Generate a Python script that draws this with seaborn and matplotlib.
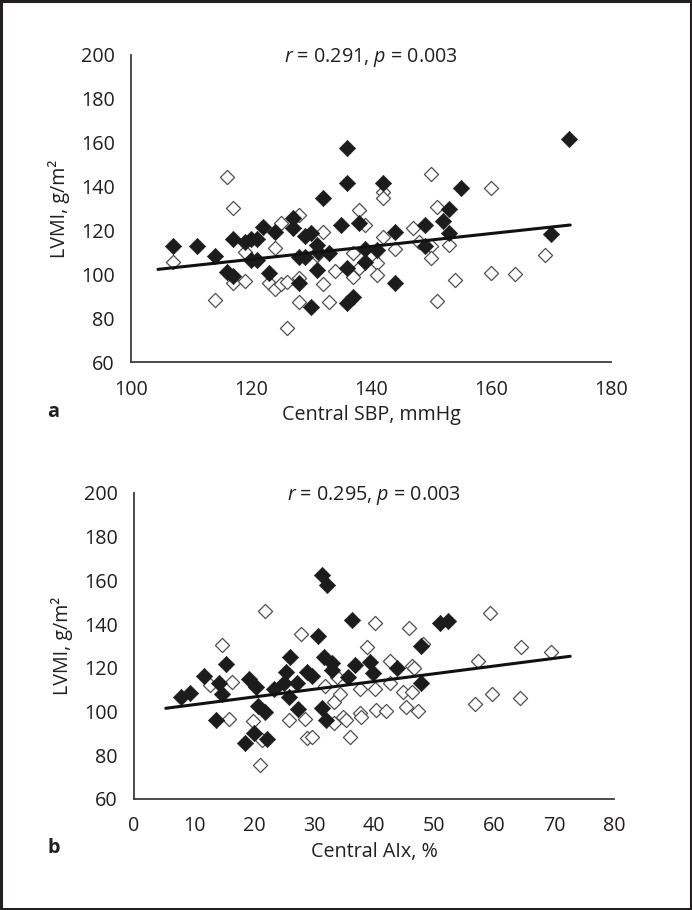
import matplotlib
matplotlib.use("Agg")
import matplotlib.pyplot as plt
import seaborn as sns
import pandas as pd
from matplotlib.patches import Rectangle

# ---------------- data ----------------
# Panel a: central SBP (mmHg) vs LVMI (g/m2)
a_filled_x = [107, 111, 114, 116, 117, 117, 119, 120, 121, 120, 121, 122, 124, 123, 127, 127,
              128, 128, 129, 129, 130, 131, 131.2, 131, 130, 132, 133, 135, 136, 136, 136, 136,
              137, 138, 139, 139, 141, 142, 144, 144, 149, 149, 152, 153, 153, 155, 170, 173]
a_filled_y = [113, 113, 108.5, 101, 99.5, 116, 115, 116, 116, 106.6, 106.6, 121.8, 119.2, 100.9,
              125.6, 121.1, 96.3, 107.9, 107.9, 117.6, 118.8, 113.5, 110.4, 102.1, 85.4, 134.7,
              110, 122.6, 157.5, 141.6, 102.9, 87.2, 90, 123.3, 111.5, 105.9, 111, 141.6, 119.2,
              96.3, 122.6, 113, 124.6, 129.7, 119.1, 139.6, 118.3, 161.7]
a_open_x = [107, 116, 117, 114, 117, 119, 119, 124, 125, 123, 124, 125, 126, 126, 128, 128, 128,
            132, 132, 133, 131, 134, 137, 137, 138, 139, 138, 141, 141, 142, 142, 142, 144, 147,
            148, 150, 150, 150, 151, 153, 151, 154, 160, 160, 164, 169]
a_open_y = [105.9, 144.6, 130.5, 88.4, 96.3, 97.1, 110.4, 112, 123.3, 96, 93.4, 95.7, 96.5, 75.8,
            127.1, 98.3, 87.7, 119.6, 95.6, 87.7, 108.9, 101.8, 109.7, 99.1, 129.4, 122.6, 102.9,
            105.1, 99.8, 137.8, 134.7, 117, 111.5, 121.1, 115, 113, 107.7, 145.7, 130.9, 113.5,
            88, 97.5, 139.6, 100.6, 100.3, 108.9]
a_line_x = [104.5, 173.2]
a_line_y = [102.4, 122.6]

# Panel b: central AIx (%) vs LVMI (g/m2)
b_filled_x = [7.9, 9.3, 11.6, 13.7, 14.2, 14.6, 15.3, 19.1, 20.4, 20.7, 21.8, 20, 18.5, 22.2, 23.3,
              26, 25.3, 25, 25.9, 27.1, 27.3, 28.8, 29.6, 30.7, 31.3, 32.1, 31.3, 32, 31.7, 33,
              33, 35.7, 36.3, 36.8, 39.4, 39.8, 43.9, 47.8, 47.8, 51, 52.4]
b_filled_y = [106.8, 108.7, 116.3, 96.2, 112.9, 108.1, 121.8, 114.8, 111.4, 102.7, 100, 90.4, 85.5,
              87.3, 110.3, 124.8, 118.3, 112.9, 106.8, 112.9, 101, 118.3, 116.3, 134.7, 162.5,
              157.9, 101.5, 96.2, 125.1, 122.1, 119, 116, 141.9, 121.3, 122.8, 117.5, 119.8, 130,
              112.9, 140.4, 141.4]
b_open_x = [21.8, 14.6, 16.3, 12.7, 15.9, 19.9, 21.4, 21, 27.8, 25.8, 28.5, 28.8, 29.6, 31.8, 33.3,
            34.4, 33.3, 34.9, 35.3, 36, 37.7, 37.8, 37.7, 38.8, 40.2, 40.2, 40.4, 33.8, 42.6, 42.6,
            42, 44.9, 46.4, 45.4, 47.4, 45.8, 46.4, 46.7, 48.2, 57.4, 56.8, 59.6, 59.4, 64.5,
            64.4, 69.5]
b_open_y = [146, 130.5, 113.7, 112.2, 96.6, 95.9, 87, 75.6, 135.4, 96.2, 96.6, 87.8, 88.2, 111.9,
            104.2, 108.1, 94.6, 97.7, 96.2, 88.5, 99.2, 97.7, 110.3, 129.7, 140.4, 110.3, 100.7,
            116, 123.3, 113.2, 100.4, 109.1, 109.1, 101.9, 100.4, 138.1, 120.9, 119.8, 130.9,
            123.3, 103.3, 107.9, 145, 129.4, 106.1, 127.4]
b_line_x = [5.3, 72.7]
b_line_y = [101.5, 125.3]

a_xticks = [100, 120, 140, 160, 180]
b_xticks = [0, 10, 20, 30, 40, 50, 60, 70, 80]
yticks = [60, 80, 100, 120, 140, 160, 180, 200]

# ---------------- style ----------------
sns.set_theme(style="white")
plt.rcParams['font.family'] = ['Open Sans', 'DejaVu Sans']
plt.rcParams['mathtext.fontset'] = 'custom'
plt.rcParams['mathtext.rm'] = 'Open Sans'
plt.rcParams['mathtext.it'] = 'Open Sans:italic'

TXT = '#231f20'
AX = '#3c3c3c'
FS = 14.2

fig = plt.figure(figsize=(6.92, 9.10), dpi=100)
fig.patch.set_facecolor('white')

axa = fig.add_axes([131 / 692, 1 - 362.5 / 910, 480 / 692, 307.5 / 910])
axb = fig.add_axes([134 / 692, 1 - 799 / 910, 480 / 692, 306 / 910])


def draw(ax, fx, fy, ox, oy, lx, ly, xticks, xlabel, stat):
    dfo = pd.DataFrame({'x': ox, 'y': oy})
    dff = pd.DataFrame({'x': fx, 'y': fy})
    dfl = pd.DataFrame({'x': lx, 'y': ly})
    sns.scatterplot(data=dfo, x='x', y='y', ax=ax, marker='D', s=52,
                    color='white', edgecolor='#505050', linewidth=0.9, zorder=3)
    sns.scatterplot(data=dff, x='x', y='y', ax=ax, marker='D', s=70,
                    color='#1c1c1c', edgecolor='#1c1c1c', linewidth=0.4, zorder=4)
    sns.lineplot(data=dfl, x='x', y='y', ax=ax, color='#111111', linewidth=2.2, zorder=5)
    ax.set_xlim(xticks[0], xticks[-1])
    ax.set_ylim(60, 200)
    ax.set_xticks(xticks)
    ax.set_yticks(yticks)
    ax.set_xticklabels([str(t) for t in xticks])
    ax.set_yticklabels([str(t) for t in yticks])
    for s in ['top', 'right']:
        ax.spines[s].set_visible(False)
    for s in ['left', 'bottom']:
        ax.spines[s].set_color(AX)
        ax.spines[s].set_linewidth(1.3)
    ax.tick_params(axis='both', direction='out', length=6.3, width=1.1, color=AX,
                   labelsize=FS, labelcolor=TXT, pad=5.5)
    ax.tick_params(axis='x', pad=6)
    ax.set_xlabel(xlabel, fontsize=FS, color=TXT, labelpad=4)
    ax.set_ylabel('LVMI, g/m²', fontsize=FS, color=TXT, labelpad=8)
    ax.text((xticks[0] + xticks[-1]) / 2, 199, stat, ha='center', va='center',
            fontsize=FS, color=TXT)
    ax.set_facecolor('white')
    ax.grid(False)


draw(axa, a_filled_x, a_filled_y, a_open_x, a_open_y, a_line_x, a_line_y,
     a_xticks, 'Central SBP, mmHg', '$r$ = 0.291, $p$ = 0.003')
draw(axb, b_filled_x, b_filled_y, b_open_x, b_open_y, b_line_x, b_line_y,
     b_xticks, 'Central AIx, %', '$r$ = 0.295, $p$ = 0.003')

fig.text(47 / 692, 1 - 412 / 910, 'a', fontsize=FS, fontweight='bold', color=TXT,
         ha='left', va='center')
fig.text(48 / 692, 1 - 848 / 910, 'b', fontsize=FS, fontweight='bold', color=TXT,
         ha='left', va='center')

fig.patches.append(Rectangle((0.0015, 0.0012), 0.997, 0.9976, transform=fig.transFigure,
                             fill=False, edgecolor='#231f20', linewidth=2.2))

fig.savefig('out.png', dpi=100, facecolor='white')
